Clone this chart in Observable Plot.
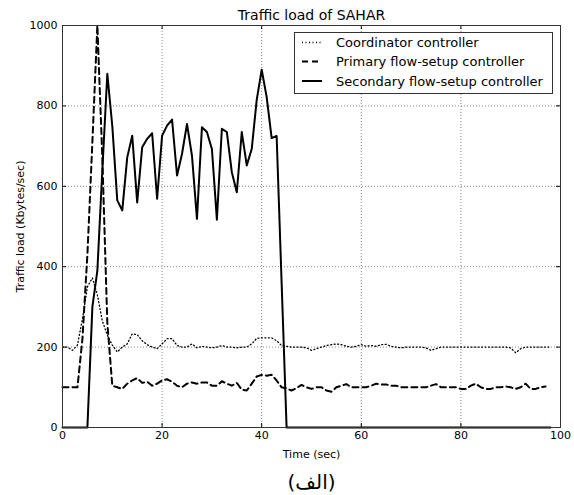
<!DOCTYPE html>
<html><head><meta charset="utf-8">
<script src="https://cdn.jsdelivr.net/npm/d3@7"></script>
<script src="https://cdn.jsdelivr.net/npm/@observablehq/plot@0.6"></script>
<style>
body{margin:0;background:#fff;}
#chart{position:relative;width:574px;height:495px;font-family:"DejaVu Sans",sans-serif;}
#legend{position:absolute;left:0;top:0;pointer-events:none;}
</style></head><body><div id="chart"></div>
<script>
// Time in seconds is the array index (one sample per second)
const coordinator = [200,200,192,205,270,350,372,330,265,230,205,188,200,208,233,231,216,206,200,196,
  208,221,221,204,200,200,208,198,202,200,198,200,204,200,200,198,200,200,208,222,
  223,223,223,216,204,202,200,200,200,198,192,196,200,204,206,208,206,202,200,202,
  206,202,204,202,206,207,202,200,198,200,200,200,200,198,192,196,200,200,200,200,
  200,200,200,200,200,200,200,200,200,200,198,186,196,200,200,200,200,200,200];
const primary = [100,100,100,100,220,430,710,1000,670,260,104,100,96,109,117,123,111,114,104,109,
  117,120,114,104,100,109,112,109,112,112,104,104,115,109,104,111,94,92,109,127,
  131,129,131,117,100,97,92,98,106,100,96,100,100,92,89,100,104,108,100,100,
  100,100,104,109,107,107,104,104,100,100,100,100,100,100,104,108,100,100,100,100,
  96,96,104,109,100,96,96,100,100,102,100,96,100,109,96,96,100,102];
const secondary = [0,0,0,0,0,0,300,390,640,880,750,565,540,672,726,560,697,718,732,569,
  726,751,766,627,681,755,676,519,747,735,693,517,743,735,635,585,735,652,693,815,
  890,822,720,725,360,0,0,0,0,0,0,0,0,0,0,0,0,0,0,0,
  0,0,0,0,0,0,0,0,0,0,0,0,0,0,0,0,0,0,0,0,
  0,0,0,0,0,0,0,0,0,0,0,0,0,0,0,0,0,0,0];
const seriesNames = ["Coordinator controller","Primary flow-setup controller","Secondary flow-setup controller"];
const xTicks = [0,20,40,60,80,100];
const yTicks = [0,200,400,600,800,1000];
const titleText = "Traffic load of SAHAR";
const xLabel = "Time (sec)";
const yLabel = "Traffic load (Kbytes/sec)";
const caption = "(الف)";

const toRows = arr => arr.map((v,i)=>({t:i, v}));
const styles = [
  {strokeWidth:1.3, strokeDasharray:"1,2.5"},
  {strokeWidth:2, strokeDasharray:"6,4"},
  {strokeWidth:2, strokeDasharray:null}
];
const series = [coordinator, primary, secondary];

const plot = Plot.plot({
  width:574, height:495,
  marginLeft:62, marginRight:14, marginTop:25, marginBottom:68,
  style:{fontFamily:"DejaVu Sans, sans-serif", fontSize:"11px", background:"white", color:"black"},
  x:{domain:[0,100]},
  y:{domain:[0,1000]},
  marks:[
    Plot.gridX(xTicks,{stroke:"#888", strokeOpacity:1, strokeDasharray:"1,2"}),
    Plot.gridY(yTicks,{stroke:"#888", strokeOpacity:1, strokeDasharray:"1,2"}),
    ...series.map((s,k)=>Plot.line(toRows(s),{x:"t", y:"v", stroke:"black", strokeWidth:styles[k].strokeWidth, strokeDasharray:styles[k].strokeDasharray})),
    Plot.tickX(xTicks,{x:d=>d, insetTop:398, stroke:"black"}),
    Plot.tickX(xTicks,{x:d=>d, insetBottom:398, stroke:"black"}),
    Plot.tickY(yTicks,{y:d=>d, insetRight:494, stroke:"black"}),
    Plot.tickY(yTicks,{y:d=>d, insetLeft:494, stroke:"black"}),
    Plot.frame({stroke:"#333"}),
    Plot.axisX(xTicks,{tickSize:0, tickPadding:4, label:null, fontSize:11, tickFormat:d=>String(d)}),
    Plot.axisY(yTicks,{tickSize:0, tickPadding:5, label:null, fontSize:11, tickFormat:d=>String(d)}),
    Plot.text([titleText],{frameAnchor:"top", lineAnchor:"middle", textAnchor:"middle", dy:-10, fontSize:14}),
    Plot.text([xLabel],{frameAnchor:"bottom", lineAnchor:"middle", textAnchor:"middle", dy:27, fontSize:11}),
    Plot.text([yLabel],{frameAnchor:"left", lineAnchor:"middle", textAnchor:"middle", dx:-42, rotate:-90, fontSize:11}),
    Plot.text([caption],{frameAnchor:"bottom", lineAnchor:"middle", textAnchor:"middle", dy:55, fontSize:20})
  ]
});
const chart = document.getElementById("chart");
chart.appendChild(plot);

// Legend overlay (inside axes, upper right)
const lg = d3.select(chart).append("svg").attr("id","legend").attr("width",574).attr("height",495);
lg.append("rect").attr("x",294.5).attr("y",32.5).attr("width",258).attr("height",61)
  .attr("fill","white").attr("stroke","#333").attr("stroke-width",1);
const rowY = [42.5, 61.5, 81];
seriesNames.forEach((name,k)=>{
  lg.append("line").attr("x1",302).attr("x2",322).attr("y1",rowY[k]).attr("y2",rowY[k])
    .attr("stroke","black").attr("stroke-width",styles[k].strokeWidth)
    .attr("stroke-dasharray",styles[k].strokeDasharray);
  lg.append("text").attr("x",336).attr("y",rowY[k]).attr("dy","0.35em")
    .attr("font-family","DejaVu Sans, sans-serif").attr("font-size",13).text(name);
});
</script></body></html>
